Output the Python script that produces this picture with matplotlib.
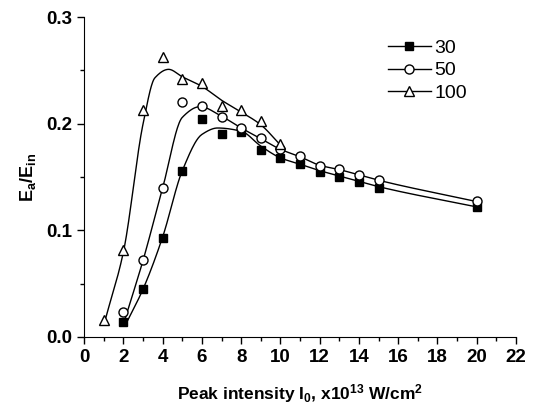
import matplotlib
matplotlib.use('Agg')
import matplotlib.pyplot as plt
from matplotlib.lines import Line2D
from matplotlib.ticker import MultipleLocator, FormatStrFormatter
import numpy as np

plt.rcParams['font.family'] = 'Liberation Sans'
plt.rcParams['font.weight'] = 'bold'
plt.rcParams['axes.labelweight'] = 'bold'
plt.rcParams['mathtext.fontset'] = 'custom'
plt.rcParams['mathtext.rm'] = 'Liberation Sans:bold'
plt.rcParams['mathtext.bf'] = 'Liberation Sans:bold'
plt.rcParams['mathtext.default'] = 'rm'

# measured points
x_30 = [2, 3, 4, 5, 6, 7, 8, 9, 10, 11, 12, 13, 14, 15, 20]
y_30 = [0.014, 0.045, 0.093, 0.156, 0.204, 0.190, 0.192, 0.175, 0.168,
        0.162, 0.155, 0.150, 0.145, 0.140, 0.122]
x_50 = [2, 3, 4, 5, 6, 7, 8, 9, 10, 11, 12, 13, 14, 15, 20]
y_50 = [0.023, 0.072, 0.140, 0.220, 0.217, 0.206, 0.196, 0.187, 0.176,
        0.170, 0.160, 0.158, 0.152, 0.147, 0.128]
x_100 = [1, 2, 3, 4, 5, 6, 7, 8, 9, 10]
y_100 = [0.016, 0.082, 0.213, 0.263, 0.242, 0.238, 0.217, 0.213, 0.203, 0.181]

# smooth guide curves (knots)
cx_30 = [2.2, 3, 4, 5, 6, 6.8, 8, 9, 10, 11, 12, 13, 14, 15, 20]
cy_30 = [0.015, 0.045, 0.094, 0.156, 0.190, 0.196, 0.193, 0.179, 0.168,
         0.162, 0.156, 0.151, 0.146, 0.141, 0.122]
cx_50 = [2.1, 3, 4, 5, 5.9, 7, 8, 9, 10, 11, 12, 13, 14, 15, 20]
cy_50 = [0.018, 0.072, 0.140, 0.206, 0.216, 0.207, 0.196, 0.186, 0.176,
         0.169, 0.161, 0.157, 0.152, 0.147, 0.127]
cx_100 = [1.1, 2, 3, 3.6, 4.3, 5, 6, 7, 8, 9, 10]
cy_100 = [0.018, 0.080, 0.200, 0.243, 0.251, 0.244, 0.235, 0.222, 0.211, 0.199, 0.180]


def pchip(xk, yk, xs):
    xk = np.asarray(xk, float)
    yk = np.asarray(yk, float)
    h = np.diff(xk)
    d = np.diff(yk) / h
    m = np.zeros_like(yk)
    for i in range(1, len(xk) - 1):
        if d[i - 1] * d[i] > 0:
            w1 = 2 * h[i] + h[i - 1]
            w2 = h[i] + 2 * h[i - 1]
            m[i] = (w1 + w2) / (w1 / d[i - 1] + w2 / d[i])
    m[0] = d[0]
    m[-1] = d[-1]
    idx = np.clip(np.searchsorted(xk, xs) - 1, 0, len(xk) - 2)
    t = (xs - xk[idx]) / h[idx]
    h00 = 2 * t**3 - 3 * t**2 + 1
    h10 = t**3 - 2 * t**2 + t
    h01 = -2 * t**3 + 3 * t**2
    h11 = t**3 - t**2
    return h00 * yk[idx] + h10 * h[idx] * m[idx] + h01 * yk[idx + 1] + h11 * h[idx] * m[idx + 1]


fig = plt.figure(figsize=(5.33, 4.07), dpi=100)
ax = fig.add_axes([0.158, 0.172, 0.81, 0.786])

for cx, cy in [(cx_30, cy_30), (cx_50, cy_50), (cx_100, cy_100)]:
    xs = np.linspace(cx[0], cx[-1], 400)
    ax.plot(xs, pchip(cx, cy, xs), color='black', lw=1.0, zorder=2)

ax.plot(x_30, y_30, 's', ms=5.5, mfc='black', mec='black', mew=1, zorder=3)
ax.plot(x_50, y_50, 'o', ms=6.5, mfc='white', mec='black', mew=1, zorder=3)
ax.plot(x_100, y_100, '^', ms=7.5, mfc='white', mec='black', mew=1, zorder=3)

ax.set_xlim(0, 22)
ax.set_ylim(0, 0.3)
ax.xaxis.set_major_locator(MultipleLocator(2))
ax.xaxis.set_minor_locator(MultipleLocator(1))
ax.yaxis.set_major_locator(MultipleLocator(0.1))
ax.yaxis.set_minor_locator(MultipleLocator(0.05))
ax.yaxis.set_major_formatter(FormatStrFormatter('%.1f'))
ax.spines['top'].set_visible(False)
ax.spines['right'].set_visible(False)
ax.tick_params(which='major', direction='out', length=5, width=1, labelsize=13.5)
ax.tick_params(which='minor', direction='out', length=3, width=1)

ax.set_xlabel('Peak intensity I$_0$, x10$^{13}$ W/cm$^2$', fontsize=12.5, fontweight='bold', labelpad=12)
ax.set_ylabel('E$_a$/E$_{in}$', fontsize=13, fontweight='bold', labelpad=6)

handles = [
    Line2D([], [], color='black', lw=1, marker='s', ms=5.5, mfc='black', mec='black'),
    Line2D([], [], color='black', lw=1, marker='o', ms=6.5, mfc='white', mec='black'),
    Line2D([], [], color='black', lw=1, marker='^', ms=7.5, mfc='white', mec='black'),
]
ax.legend(handles, ['30', '50', '100'], loc='upper left', bbox_to_anchor=(0.685, 0.955),
          frameon=False, prop={'size': 14, 'weight': 'normal'}, handlelength=2.2,
          handletextpad=0.2, labelspacing=0.25, borderaxespad=0)

fig.savefig('out.png', dpi=100)
